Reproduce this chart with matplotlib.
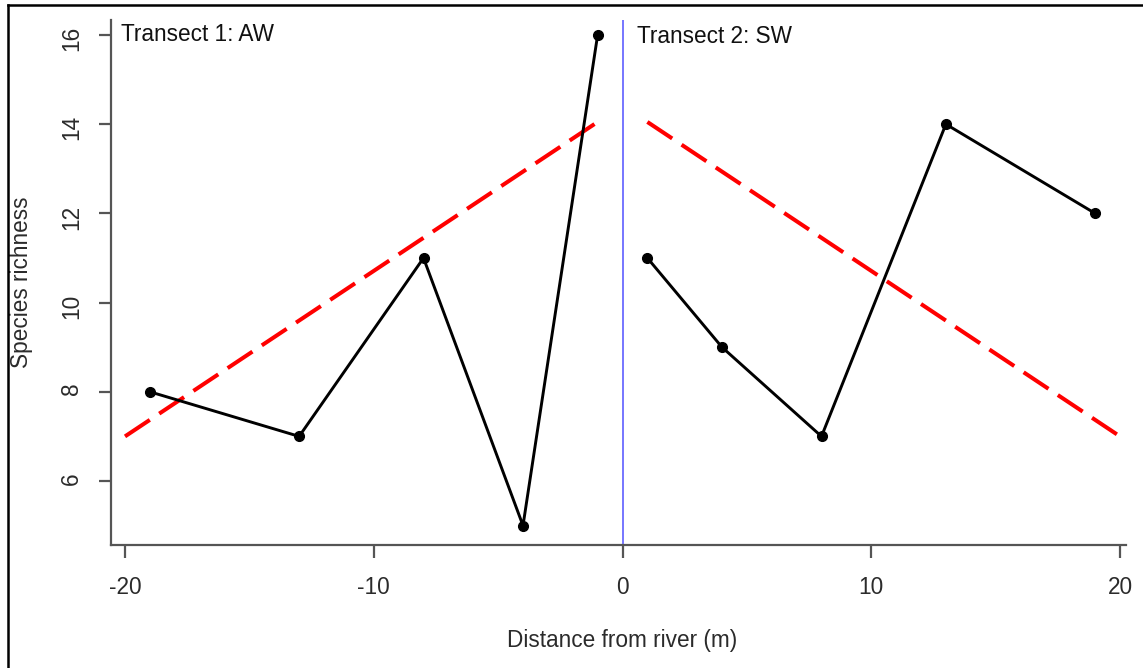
# ===== IMPORTS =====
import matplotlib
matplotlib.use('Agg')
import matplotlib.pyplot as plt
from matplotlib.lines import Line2D

plt.rcParams['font.family'] = ['Liberation Sans', 'DejaVu Sans']
plt.rcParams['axes.unicode_minus'] = False   # plain hyphen like R

# ===== DATA =====
# transect 1 (AW) - left bank, negative distances
aw_dist = [-19, -13, -8, -4, -1]
aw_rich = [8, 7, 11, 5, 16]

# transect 2 (SW) - right bank
sw_dist = [1, 4, 8, 13, 19]
sw_rich = [11, 9, 7, 14, 12]

# fitted trend lines (end points)
aw_fit_x = [-20, -1]
aw_fit_y = [7.0, 14.05]
sw_fit_x = [1, 20]
sw_fit_y = [14.05, 7.0]

x_ticks = [-20, -10, 0, 10, 20]
y_ticks = [6, 8, 10, 12, 14, 16]

# ===== FIGURE =====
W, H = 1143, 668
fig = plt.figure(figsize=(W / 100, H / 100), dpi=100)

# axes box in pixels: left 111, right 1126, top 20, bottom 545
ax = fig.add_axes([111 / W, (H - 545) / H, (1126 - 111) / W, (545 - 20) / H])

axis_col = '#555555'
text_col = '#2b2b2b'

# river line at x = 0
ax.axvline(0, color='#6b6bff', lw=1.3, zorder=1)

# trend lines (red dashed)
for fx, fy in [(aw_fit_x, aw_fit_y), (sw_fit_x, sw_fit_y)]:
    ax.plot(fx, fy, color='#ff0000', lw=2.9, dashes=(7.4, 2.8),
            dash_capstyle='butt', zorder=2)

# observed richness
ax.plot(aw_dist, aw_rich, color='black', lw=2.1, marker='o', ms=7, zorder=3)
ax.plot(sw_dist, sw_rich, color='black', lw=2.1, marker='o', ms=7, zorder=3)

# transect labels
ax.text(-20.16, 16.0, 'Transect 1: AW', fontsize=16.3, color='#111111',
        ha='left', va='center')
ax.text(0.58, 15.96, 'Transect 2: SW', fontsize=16.3, color='#111111',
        ha='left', va='center')

# ===== AXES (R style, bty = "l") =====
ax.set_xlim(-20.563, 20.241)
ax.set_ylim(4.565, 16.336)
ax.set_xticks(x_ticks)
ax.set_yticks(y_ticks)

for s in ['top', 'right']:
    ax.spines[s].set_visible(False)
for s in ['left', 'bottom']:
    ax.spines[s].set_color(axis_col)
    ax.spines[s].set_linewidth(1.6)

ax.tick_params(direction='out', length=9, width=1.6, color=axis_col,
               labelsize=16.3, labelcolor=text_col, pad=13)
ax.tick_params(axis='y', labelrotation=90, pad=11)

ax.set_xlabel('Distance from river (m)', fontsize=16.3, color=text_col)
ax.set_ylabel('Species richness', fontsize=16.3, color=text_col)
ax.xaxis.label.set_va('center')
ax.yaxis.label.set_va('center')
ax.xaxis.set_label_coords(0.504, (545 - 641) / 525)
ax.yaxis.set_label_coords((22 - 111) / 1015, 0.5)

# screenshot frame (top and left edges only)
fig.add_artist(Line2D([8 / W, 1], [1 - 5 / H, 1 - 5 / H], color='black',
                      lw=1.8, transform=fig.transFigure))
fig.add_artist(Line2D([8 / W, 8 / W], [0, 1 - 5 / H], color='black',
                      lw=1.8, transform=fig.transFigure))

plt.savefig('out.png', dpi=100)
